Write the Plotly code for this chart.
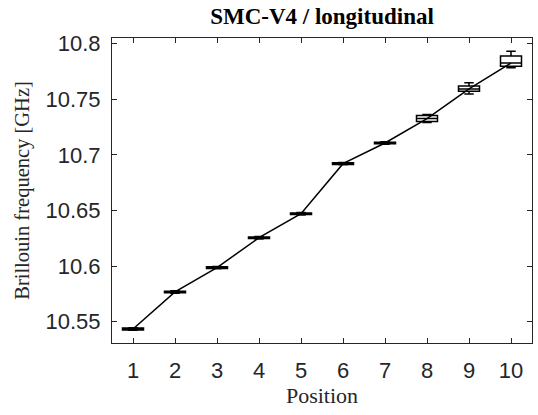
import plotly.graph_objects as go

# Brillouin frequency statistics per measurement position (GHz)
positions = [1, 2, 3, 4, 5, 6, 7, 8, 9, 10]
medians = [10.5434, 10.5767, 10.5986, 10.6255, 10.6471, 10.6921, 10.7107, 10.7326, 10.7593, 10.7826]
q1 = [10.5426, 10.5760, 10.5979, 10.6248, 10.6464, 10.6914, 10.7100, 10.7299, 10.7571, 10.7796]
q3 = [10.5442, 10.5774, 10.5993, 10.6262, 10.6478, 10.6928, 10.7114, 10.7353, 10.7620, 10.7889]
lower_whisker = [10.5422, 10.5756, 10.5975, 10.6244, 10.6460, 10.6910, 10.7096, 10.7290, 10.7548, 10.7784]
upper_whisker = [10.5446, 10.5778, 10.5997, 10.6266, 10.6482, 10.6932, 10.7118, 10.7362, 10.7648, 10.7931]

y_ticks = [10.55, 10.6, 10.65, 10.7, 10.75, 10.8]
y_tick_labels = ["10.55", "10.6", "10.65", "10.7", "10.75", "10.8"]
x_tick_labels = [str(p) for p in positions]

axis_color = "#262626"
serif = "Liberation Serif, Times New Roman, serif"
sans = "Liberation Sans, Arial, sans-serif"

fig = go.Figure()

# line through the medians
fig.add_trace(go.Scatter(
    x=positions, y=medians, mode="lines",
    line=dict(color="black", width=1.5),
    hoverinfo="skip", showlegend=False,
))

# box plots
fig.add_trace(go.Box(
    x=positions, q1=q1, median=medians, q3=q3,
    lowerfence=lower_whisker, upperfence=upper_whisker,
    width=0.5, whiskerwidth=0.45,
    line=dict(color="black", width=1.5),
    fillcolor="rgba(255,255,255,0)",
    boxpoints=False, showlegend=False,
))

fig.update_layout(
    width=538, height=415,
    margin=dict(l=112, r=6, t=38, b=72),
    paper_bgcolor="white", plot_bgcolor="white",
    title=dict(
        text="<b>SMC-V4 / longitudinal</b>",
        x=0.5, xref="paper", xanchor="center",
        y=1, yref="container", yanchor="top", pad=dict(t=8),
        font=dict(family=serif, size=23, color="black"),
    ),
    xaxis=dict(
        range=[0.5, 10.5],
        tickmode="array", tickvals=positions, ticktext=x_tick_labels,
        ticks="inside", ticklen=5, tickcolor=axis_color, tickwidth=1,
        ticklabelstandoff=8,
        showline=True, linecolor=axis_color, linewidth=1, mirror="ticks",
        showgrid=False, zeroline=False,
        tickfont=dict(family=sans, size=22, color=axis_color),
        title=dict(text="Position", font=dict(family=serif, size=22, color=axis_color), standoff=2),
    ),
    yaxis=dict(
        range=[10.5308, 10.8051],
        tickmode="array", tickvals=y_ticks, ticktext=y_tick_labels,
        ticks="inside", ticklen=5, tickcolor=axis_color, tickwidth=1,
        ticklabelstandoff=6,
        showline=True, linecolor=axis_color, linewidth=1, mirror="ticks",
        showgrid=False, zeroline=False,
        tickfont=dict(family=sans, size=22, color=axis_color),
        title=dict(text="Brillouin frequency [GHz]", font=dict(family=serif, size=20.5, color=axis_color), standoff=10),
    ),
)

fig.write_html("out.html")
